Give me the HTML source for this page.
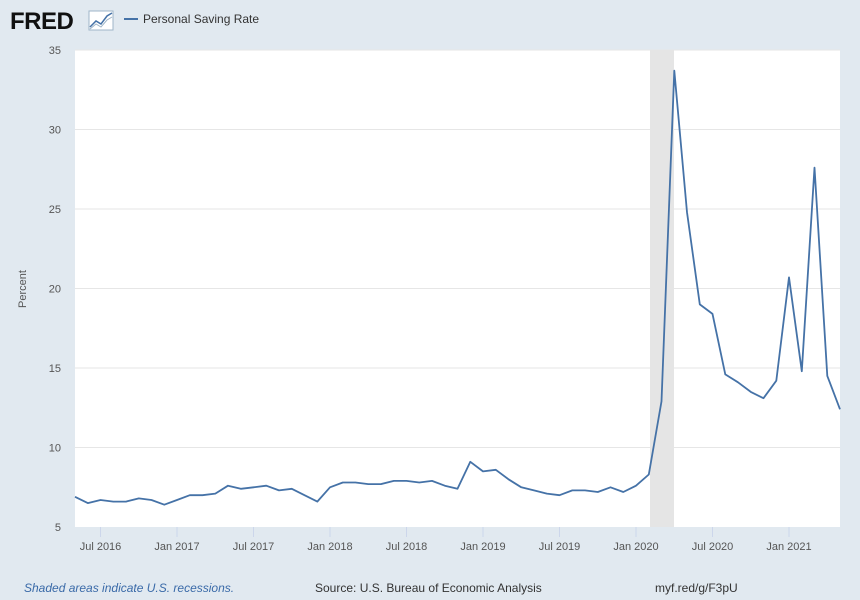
<!DOCTYPE html>
<html><head><meta charset="utf-8"><style>
html,body{margin:0;padding:0;background:#e1e9f0;}
body{width:860px;height:600px;overflow:hidden;font-family:"Liberation Sans",sans-serif;}
</style></head><body>
<svg id="c" width="860" height="600" xmlns="http://www.w3.org/2000/svg" style="position:absolute;left:0;top:0">
<rect x="0" y="0" width="860" height="600" fill="#e1e9f0"/>
<text x="10" y="29" font-family="Liberation Sans,sans-serif" font-size="24" font-weight="bold" fill="#111" letter-spacing="-0.5">FRED</text>
<rect x="89" y="11" width="24" height="19" fill="#fff" stroke="#9fb5c8" stroke-width="1"/>
<polyline points="90,27 96,21 101,24 107,16 112,13" fill="none" stroke="#4572a7" stroke-width="1.5"/>
<polyline points="90,29 96,24 101,27 107,20 112,17" fill="none" stroke="#9fb5c8" stroke-width="1"/>
<line x1="124" y1="19" x2="138" y2="19" stroke="#4572a7" stroke-width="2"/>
<text x="143" y="23" font-size="12" fill="#333">Personal Saving Rate</text>
<rect x="75" y="50" width="765" height="477" fill="#fff"/>
<g id="grid"></g>
<rect x="650" y="50" width="24" height="477" fill="#e5e5e5"/>
<polyline id="line" fill="none" stroke="#4572a7" stroke-width="1.8" stroke-linejoin="round"/>
<text transform="translate(26,289) rotate(-90)" text-anchor="middle" font-size="11" fill="#555">Percent</text>
<text x="24" y="592" font-size="12" font-style="italic" fill="#3a6aa8">Shaded areas indicate U.S. recessions.</text>
<text x="315" y="592" font-size="12" fill="#333">Source: U.S. Bureau of Economic Analysis</text>
<text x="655" y="592" font-size="12" fill="#333">myf.red/g/F3pU</text>
</svg>
<script>
var ns="http://www.w3.org/2000/svg",g=document.getElementById("grid"),svg=document.getElementById("c");
function el(t,a,txt,p){var e=document.createElementNS(ns,t);for(var k in a)e.setAttribute(k,a[k]);if(txt)e.textContent=txt;(p||g).appendChild(e);return e;}
function Y(v){return 527-(v-5)*(477/30);}
for(var v=5;v<=35;v+=5){var y=Y(v);if(v>5)el("line",{x1:75,x2:840,y1:y,y2:y,stroke:"#e6e6e6","stroke-width":1});
el("text",{x:61,y:y+4,"text-anchor":"end","font-size":"11",fill:"#555"},""+v,svg);}
var labs=["Jul 2016","Jan 2017","Jul 2017","Jan 2018","Jul 2018","Jan 2019","Jul 2019","Jan 2020","Jul 2020","Jan 2021"];
for(var i=0;i<labs.length;i++){var x=75+12.75*(2+6*i);
el("line",{x1:x,x2:x,y1:527,y2:537,stroke:"#ccd6eb","stroke-width":1},null,svg);
el("text",{x:x,y:550,"text-anchor":"middle","font-size":"11",fill:"#555"},labs[i],svg);}
var d=[6.9,6.5,6.7,6.6,6.6,6.8,6.7,6.4,6.7,7.0,7.0,7.1,7.6,7.4,7.5,7.6,7.3,7.4,7.0,6.6,7.5,7.8,7.8,7.7,7.7,7.9,7.9,7.8,7.9,7.6,7.4,9.1,8.5,8.6,8.0,7.5,7.3,7.1,7.0,7.3,7.3,7.2,7.5,7.2,7.6,8.3,12.9,33.7,24.8,19.0,18.4,14.6,14.1,13.5,13.1,14.2,20.7,14.8,27.6,14.5,12.4];
var pts=d.map(function(v,i){return (75+i*12.75).toFixed(1)+","+Y(v).toFixed(1)}).join(" ");
document.getElementById("line").setAttribute("points",pts);
</script>
</body></html>
